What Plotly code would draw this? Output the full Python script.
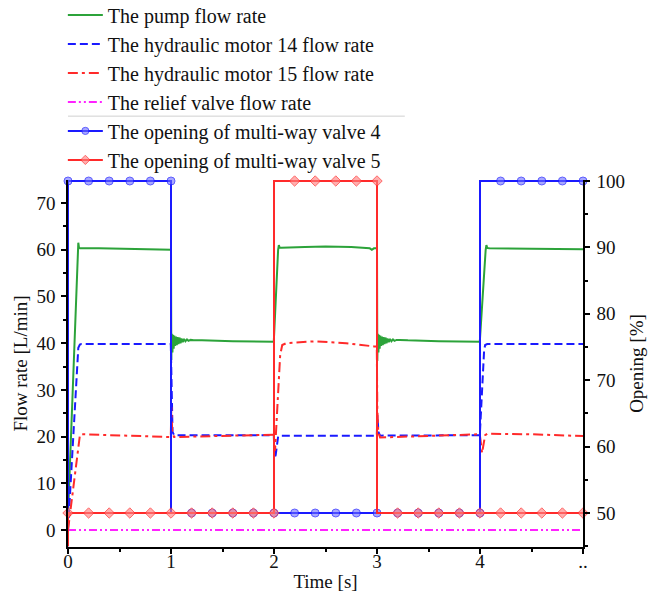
import plotly.graph_objects as go

# ---------------- data ----------------
pump_t = [0.0, 0.09, 0.10, 0.107, 0.115, 0.3, 0.7, 0.998,
          1.000, 1.003, 1.008, 1.014, 1.020, 1.026, 1.032, 1.040, 1.048, 1.056, 1.064, 1.072,
          1.082, 1.092, 1.102, 1.114, 1.126, 1.140, 1.155, 1.170, 1.190, 1.220, 1.300, 1.600, 1.998,
          2.040, 2.047, 2.055, 2.070, 2.300, 2.500, 2.750, 2.930, 2.950, 2.970, 2.998,
          3.000, 3.003, 3.008, 3.014, 3.020, 3.026, 3.032, 3.040, 3.048, 3.056, 3.064, 3.072,
          3.082, 3.092, 3.102, 3.114, 3.126, 3.140, 3.155, 3.170, 3.190, 3.220, 3.300, 3.600, 3.998,
          4.055, 4.062, 4.070, 4.090, 4.500, 5.000]
pump_q = [3.0, 58.5, 61.5, 60.4, 60.3, 60.3, 60.2, 60.0,
          60.0, 36.4, 42.0, 38.0, 41.8, 38.8, 41.6, 39.4, 41.4, 39.6, 41.3, 39.8,
          41.2, 40.0, 41.0, 40.2, 40.9, 40.4, 40.8, 40.5, 40.7, 40.6, 40.6, 40.4, 40.3,
          60.0, 61.0, 60.4, 60.4, 60.6, 60.7, 60.6, 60.3, 60.0, 60.3, 60.3,
          60.3, 36.2, 42.0, 38.0, 41.8, 38.8, 41.6, 39.4, 41.4, 39.6, 41.3, 39.8,
          41.2, 40.0, 41.0, 40.2, 40.9, 40.4, 40.8, 40.5, 40.7, 40.7, 40.6, 40.4, 40.3,
          60.0, 61.0, 60.4, 60.3, 60.2, 60.1]

motor14_t = [0.0, 0.09, 0.10, 0.115, 0.13, 0.998, 1.006, 1.015, 1.03, 1.998,
             2.006, 2.016, 2.040, 2.060, 2.998, 3.004, 3.014, 3.030, 3.998,
             4.040, 4.050, 4.070, 5.000]
motor14_q = [0.0, 36.0, 39.0, 39.7, 39.8, 39.8, 30.0, 21.0, 20.3, 20.3,
             15.5, 16.0, 20.0, 20.2, 20.2, 24.6, 21.0, 20.2, 20.3,
             38.5, 39.6, 39.8, 39.8]

motor15_t = [0.0, 0.10, 0.115, 0.13, 0.5, 0.998, 1.003, 1.012, 1.030, 1.500, 1.998,
             2.010, 2.060, 2.080, 2.120, 2.400, 2.700, 2.970, 2.998,
             3.003, 3.012, 3.030, 3.500, 3.998, 4.020, 4.050, 4.070, 4.500, 5.000]
motor15_q = [0.0, 18.0, 20.2, 20.5, 20.3, 19.9, 26.3, 21.0, 19.9, 20.1, 20.4,
             17.0, 37.5, 39.6, 40.0, 40.4, 40.0, 39.3, 39.3,
             26.0, 21.0, 19.8, 20.1, 20.5, 16.5, 20.3, 20.6, 20.5, 20.1]

relief_t = [0.0, 5.0]
relief_q = [0.0, 0.0]

valve_t = [0.0, 0.2, 0.4, 0.6, 0.8, 1.0, 1.2, 1.4, 1.6, 1.8, 2.0, 2.2, 2.4, 2.6, 2.8,
           3.0, 3.2, 3.4, 3.6, 3.8, 4.0, 4.2, 4.4, 4.6, 4.8, 5.0]
valve4_pct = [100, 100, 100, 100, 100, 100, 50, 50, 50, 50, 50, 50, 50, 50, 50,
              50, 50, 50, 50, 50, 50, 100, 100, 100, 100, 100]
valve5_pct = [50, 50, 50, 50, 50, 50, 50, 50, 50, 50, 50, 100, 100, 100, 100,
              100, 50, 50, 50, 50, 50, 50, 50, 50, 50, 50]
valve_start = 45

x_ticks = [0, 1, 2, 3, 4, 5]
x_ticktext = ["0", "1", "2", "3", "4", ".."]

names = ["The pump flow rate",
         "The hydraulic motor 14 flow rate",
         "The hydraulic motor 15 flow rate",
         "The relief valve flow rate",
         "The opening of multi-way valve 4",
         "The opening of multi-way valve 5"]


def step_path(times, vals, start, msize):
    xs, ys, sz = [times[0]], [start], [0]
    for i, (t, v) in enumerate(zip(times, vals)):
        if i > 0 and v != vals[i - 1]:
            xs.append(times[i - 1]); ys.append(v); sz.append(0)
        xs.append(t); ys.append(v); sz.append(msize)
    return xs, ys, sz


FONT = "Liberation Serif"
GREEN = "#2ca33a"
BLUE = "#1a1aff"
RED = "#ff2a2a"
MAGENTA = "#ff22ff"

fig = go.Figure()
fig.add_trace(go.Scatter(x=pump_t, y=pump_q, mode="lines", name=names[0],
                         line=dict(color=GREEN, width=2)))
fig.add_trace(go.Scatter(x=motor14_t, y=motor14_q, mode="lines", name=names[1],
                         line=dict(color=BLUE, width=2, dash="8px,4px")))
fig.add_trace(go.Scatter(x=motor15_t, y=motor15_q, mode="lines", name=names[2],
                         line=dict(color=RED, width=2, dash="10px,4px,3px,4px")))
fig.add_trace(go.Scatter(x=relief_t, y=relief_q, mode="lines", name=names[3],
                         line=dict(color=MAGENTA, width=2, dash="8px,3px,2px,3px,2px,3px")))

x4, y4, s4 = step_path(valve_t, valve4_pct, valve_start, 8)
fig.add_trace(go.Scatter(x=x4, y=y4, mode="lines+markers", name=names[4], yaxis="y2",
                         cliponaxis=False,
                         line=dict(color=BLUE, width=2),
                         marker=dict(symbol="circle", size=s4, color="rgba(110,110,255,0.85)",
                                     line=dict(color=BLUE, width=1))))
x5, y5, s5 = step_path(valve_t, valve5_pct, valve_start, 8)
fig.add_trace(go.Scatter(x=x5, y=y5, mode="lines+markers", name=names[5], yaxis="y2",
                         cliponaxis=False,
                         line=dict(color=RED, width=2),
                         marker=dict(symbol="diamond", size=s5, color="rgba(255,130,130,0.9)",
                                     line=dict(color=RED, width=1))))

axis_common = dict(showline=True, linecolor="black", linewidth=1.5, ticks="outside",
                   ticklen=5, tickwidth=1.5, tickcolor="black", showgrid=False, zeroline=False,
                   tickfont=dict(family=FONT, size=19, color="#111"),
                   title_font=dict(family=FONT, size=19, color="#111"))

fig.update_layout(
    width=648, height=592,
    margin=dict(l=68, r=65, t=180, b=45, autoexpand=False),
    paper_bgcolor="white", plot_bgcolor="white",
    font=dict(family=FONT, size=19, color="#111"),
    showlegend=True,
    legend=dict(x=-0.01, y=1.503, xanchor="left", yanchor="top", bgcolor="rgba(0,0,0,0)",
                font=dict(family=FONT, size=20, color="#111"), itemwidth=35,
                tracegroupgap=0),
    xaxis=dict(range=[0, 5], tickvals=x_ticks, ticktext=x_ticktext,
               title=dict(text="Time [s]", standoff=4),
               minor=dict(ticks="outside", ticklen=3, dtick=0.5, tickcolor="black", tickwidth=1.5),
               ticklabelstandoff=-9,
               **axis_common),
    yaxis=dict(range=[-3.64, 74.93], dtick=10, tick0=0,
               title=dict(text="Flow rate [L/min]", standoff=4),
               minor=dict(ticks="outside", ticklen=3, dtick=5, tickcolor="black", tickwidth=1.5),
               ticklabelstandoff=2,
               **axis_common),
    yaxis2=dict(range=[44.88, 100.15], dtick=10, tick0=0, overlaying="y", side="right",
                title=dict(text="Opening [%]", standoff=6),
                minor=dict(ticks="outside", ticklen=3, dtick=5, tickcolor="black", tickwidth=1.5),
                ticklabelstandoff=3,
                **axis_common),
    shapes=[dict(type="line", xref="paper", yref="paper", x0=0, x1=0.654, y0=1.174, y1=1.174,
                 line=dict(color="#d0d0d0", width=1))],
)

fig.write_html("out.html")
